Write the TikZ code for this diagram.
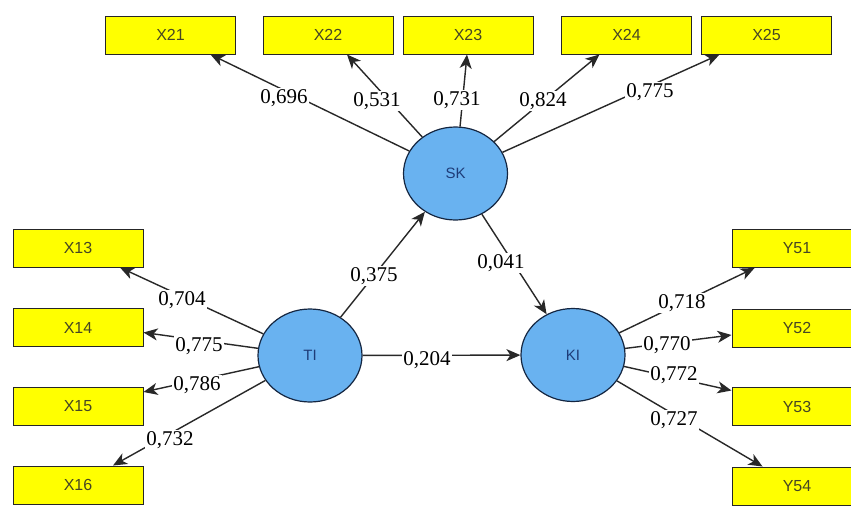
\documentclass[tikz,border=0pt]{standalone}
\usepackage{fontspec}
\setmainfont{Liberation Serif}
\newfontfamily\boxfont{Liberation Sans}
\usetikzlibrary{arrows.meta,shapes.geometric,calc}
\definecolor{boxyellow}{RGB}{255,255,0}
\definecolor{boxtext}{RGB}{70,70,35}
\definecolor{lvfill}{RGB}{105,178,240}
\definecolor{lvdraw}{RGB}{20,38,65}
\definecolor{lvtext}{RGB}{30,60,120}
\definecolor{linecol}{RGB}{40,40,40}
\tikzset{
  indbox/.style={draw=black!85, line width=1pt, fill=boxyellow, minimum width=130pt, minimum height=38pt, inner sep=0pt, text=boxtext, font=\boxfont\fontsize{16}{16}\selectfont},
  latent/.style={ellipse, draw=lvdraw, line width=1.2pt, fill=lvfill, minimum width=104pt, minimum height=93pt, inner sep=0pt, text=lvtext, font=\boxfont\fontsize{15}{15}\selectfont},
  conn/.style={draw=linecol, line width=1.4pt, -{Stealth[length=14pt,width=12pt,inset=4pt]}},
  lbl/.style={fill=white, inner sep=1pt, font=\fontsize{21}{21}\selectfont}
}
\begin{document}
\begin{tikzpicture}[x=1pt,y=-1pt]
\useasboundingbox (0,0) rectangle (851,506);
\clip (0,0) rectangle (851,506);
\fill[white] (0,0) rectangle (851,506);
% indicator boxes
\node[indbox] (x21) at (170.5,35) {X21};
\node[indbox] (x22) at (328,35) {X22};
\node[indbox] (x23) at (468,35) {X23};
\node[indbox] (x24) at (626.5,35) {X24};
\node[indbox] (x25) at (766.5,35) {X25};
\node[indbox] (x13) at (78,248) {X13};
\node[indbox] (x14) at (78,327.5) {X14};
\node[indbox] (x15) at (78,406) {X15};
\node[indbox] (x16) at (78,485) {X16};
\node[indbox] (y51) at (797,248.5) {Y51};
\node[indbox] (y52) at (797,328) {Y52};
\node[indbox] (y53) at (797,406.5) {Y53};
\node[indbox] (y54) at (797,486) {Y54};
% latent variables
\node[latent] (sk) at (455.5,173.5) {SK};
\node[latent] (ti) at (310,355.5) {TI};
\node[latent] (ki) at (573,355) {KI};
% connectors
\draw[conn] (sk) -- ($(x21.south)+(40,0)$);
\draw[conn] (sk) -- ($(x22.south)+(19,0)$);
\draw[conn] (sk) -- ($(x23.south)+(-1,0)$);
\draw[conn] (sk) -- ($(x24.south)+(-27,0)$);
\draw[conn] (sk) -- ($(x25.south)+(-47,0)$);
\draw[conn] (ti) -- ($(x13.south)+(42,0)$);
\draw[conn] (ti) -- ($(x14.east)+(0,5)$);
\draw[conn] (ti) -- ($(x15.east)+(0,-14)$);
\draw[conn] (ti) -- ($(x16.north)+(35,0)$);
\draw[conn] (ki) -- ($(y51.south west)+(23,0)$);
\draw[conn] (ki) -- ($(y52.west)+(0,7)$);
\draw[conn] (ki) -- ($(y53.west)+(0,-16)$);
\draw[conn] (ki) -- ($(y54.north west)+(31,0)$);
\draw[conn] (ti) -- (sk);
\draw[conn] (sk) -- (ki);
\draw[conn] (ti) -- (ki);
% loading / path labels
\node[lbl] (l21) at (284,98) {0,696};
\node[lbl] (l22) at (377,101) {0,531};
\node[lbl] (l23) at (457,100) {0,731};
\node[lbl] (l24) at (543,101) {0,824};
\node[lbl] (l25) at (650,92) {0,775};
\node[lbl] (l13) at (182,300) {0,704};
\node[lbl] (l14) at (199,346) {0,775};
\node[lbl] (l15) at (197,385) {0,786};
\node[lbl] (l16) at (170,440) {0,732};
\node[lbl] (lts) at (374,276) {0,375};
\node[lbl] (lsk) at (501,263) {0,041};
\node[lbl] (ltk) at (427,360) {0,204};
\node[lbl] (l51) at (682,303) {0,718};
\node[lbl] (l52) at (667,345) {0,770};
\node[lbl] (l53) at (674,375) {0,772};
\node[lbl] (l54) at (674,420) {0,727};
\end{tikzpicture}
\end{document}
